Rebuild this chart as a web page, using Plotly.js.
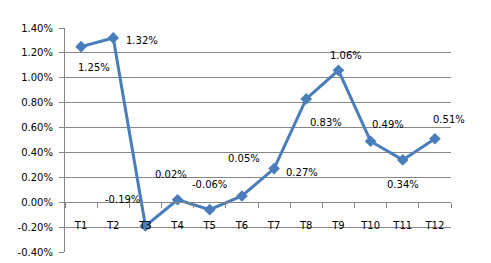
<!DOCTYPE html>
<html>
<head>
<meta charset="utf-8">
<script src="https://cdn.plot.ly/plotly-3.0.1.min.js"></script>
<style>html,body{margin:0;padding:0;background:#fff;}#chart{width:491px;height:263px;}</style>
</head>
<body>
<div id="chart"></div>
<script>
var categories = ['T1','T2','T3','T4','T5','T6','T7','T8','T9','T10','T11','T12'];
var values = [1.25, 1.32, -0.19, 0.02, -0.06, 0.05, 0.27, 0.83, 1.06, 0.49, 0.34, 0.51];
var yTicks = [-0.4, -0.2, 0, 0.2, 0.4, 0.6, 0.8, 1.0, 1.2, 1.4];

// label offsets (style only), in pixels
var labelDx = [13, 29, -23, -7, 0, 2, 28, 20, 8, 17, 0, 14];
var labelDy = [-21, -3, 26, 25, 25, 38, -4, -24, 15, 17, -25, 19];

var fontFam = 'DejaVu Sans, Verdana, sans-serif';

var annotations = categories.map(function(c, i) {
  return {
    x: c, y: values[i], xref: 'x', yref: 'y',
    text: values[i].toFixed(2) + '%',
    showarrow: false,
    xshift: labelDx[i], yshift: labelDy[i],
    font: {family: fontFam, size: 10, color: '#000'}
  };
});

var trace = {
  x: categories, y: values, type: 'scatter', mode: 'lines+markers',
  line: {color: '#4A7EBB', width: 3},
  marker: {symbol: 'diamond', size: 9, color: '#4A7EBB'},
  hoverinfo: 'none'
};

var yLo = yTicks[0], yHi = yTicks[yTicks.length - 1];

var layout = {
  width: 491, height: 263,
  margin: {l: 65, r: 40, t: 28, b: 11, pad: 0},
  paper_bgcolor: '#fff', plot_bgcolor: '#fff',
  showlegend: false,
  xaxis: {
    type: 'category',
    range: [-0.5, categories.length - 0.5],
    anchor: 'free',
    position: (0 - yLo) / (yHi - yLo),
    showline: true, linecolor: '#868686', linewidth: 1,
    showgrid: false, zeroline: false,
    ticks: 'outside', tickson: 'boundaries', ticklen: 5, tickcolor: '#868686', tickwidth: 1,
    ticklabelstandoff: 14,
    tickfont: {family: fontFam, size: 10, color: '#000'},
    fixedrange: true
  },
  yaxis: {
    range: [yLo, yHi],
    tickvals: yTicks,
    ticktext: yTicks.map(function(v){ return v.toFixed(2) + '%'; }),
    showline: true, linecolor: '#868686', linewidth: 1,
    showgrid: true, gridcolor: '#868686', gridwidth: 1,
    zeroline: false,
    ticks: 'outside', ticklen: 5, tickcolor: '#868686', tickwidth: 1,
    ticklabelstandoff: 4,
    tickfont: {family: fontFam, size: 10, color: '#000'},
    fixedrange: true
  },
  annotations: annotations
};

Plotly.newPlot('chart', [trace], layout, {displayModeBar: false, staticPlot: true});
</script>
</body>
</html>
